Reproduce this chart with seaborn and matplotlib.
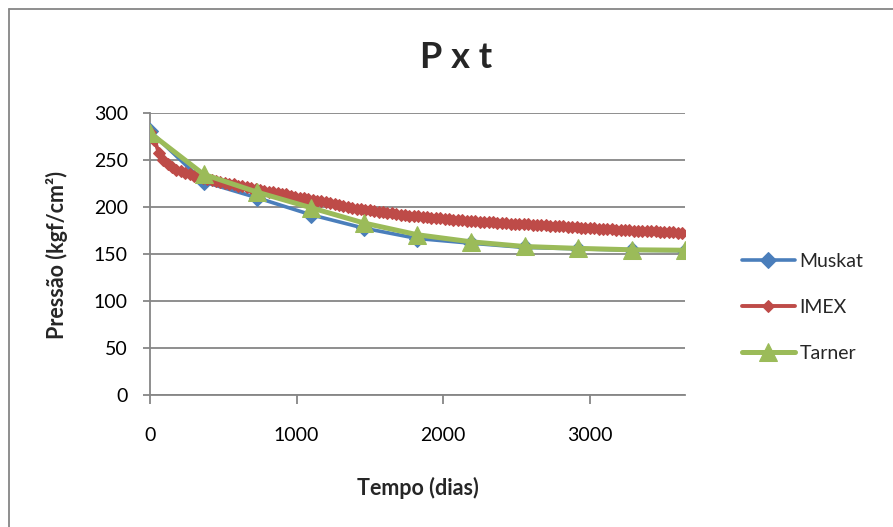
import numpy as np
import pandas as pd
import matplotlib
matplotlib.use("Agg")
import matplotlib.pyplot as plt
import seaborn as sns
from matplotlib.lines import Line2D

# ---------------- data ----------------
muskat_days = [0, 365, 730, 1095, 1460, 1825, 2190, 2555, 2920, 3285, 3650]
muskat_p = [281, 227, 210, 192, 177.5, 166.5, 161.5, 157, 155.5, 154, 153.5]

tarner_days = [0, 365, 730, 1095, 1460, 1825, 2190, 2555, 2920, 3285, 3650]
tarner_p = [279, 235, 216, 199.5, 183, 170.5, 163, 158, 156, 154.5, 154]

imex_days = [0, 30, 60, 90, 120, 150, 180, 210, 240, 270, 300, 330, 360, 390, 420,
             450, 480, 510, 540, 570, 600, 630, 660, 690, 720, 750, 780, 810, 840,
             870, 900, 930, 960, 990, 1020, 1050, 1080, 1110, 1140, 1170, 1200,
             1230, 1260, 1290, 1320, 1350, 1380, 1410, 1440, 1470, 1500, 1530,
             1560, 1590, 1620, 1650, 1680, 1710, 1740, 1770, 1800, 1830, 1860,
             1890, 1920, 1950, 1980, 2010, 2040, 2070, 2100, 2130, 2160, 2190,
             2220, 2250, 2280, 2310, 2340, 2370, 2400, 2430, 2460, 2490, 2520,
             2550, 2580, 2610, 2640, 2670, 2700, 2730, 2760, 2790, 2820, 2850,
             2880, 2910, 2940, 2970, 3000, 3030, 3060, 3090, 3120, 3150, 3180,
             3210, 3240, 3270, 3300, 3330, 3360, 3390, 3420, 3450, 3480, 3510,
             3540, 3570, 3600, 3630]
imex_p = [280, 272, 258, 250, 246, 243, 240, 238, 236, 235, 233, 232, 231, 230, 229,
          228, 227, 226, 225, 224.5, 223, 222.5, 221, 220.5, 219, 218.5, 217.5,
          216.5, 216, 215, 214, 213.5, 212, 211, 210, 209.5, 208.5, 207.5, 206.5,
          206, 205, 204, 203.5, 202.5, 201, 200.5, 199.5, 198.5, 198, 197, 196.5,
          196, 195, 194.5, 194, 193.5, 192.5, 192, 191.5, 191, 190.5, 190, 189.5,
          189, 188.5, 188, 188, 187.5, 187, 186.5, 186.5, 186, 185.5, 185.5, 185,
          184.5, 184.5, 184, 184, 183.5, 183.5, 183, 182.5, 182.5, 182, 182, 181.5,
          181, 181, 180.5, 180.5, 180, 180, 179.5, 179.5, 179, 178.5, 178.5, 178,
          178, 177.5, 177.5, 177, 177, 176.5, 176.5, 176, 176, 175.5, 175.5, 175,
          175, 174.5, 174.5, 174, 174, 173.5, 173.5, 173, 173, 172.5, 172.5]

x_ticks = [0, 1000, 2000, 3000]
y_ticks = [0, 50, 100, 150, 200, 250, 300]

title = "P x t"
xlabel = "Tempo (dias)"
ylabel = "Pressão (kgf/cm²)"

# ---------------- style ----------------
sns.set_theme(style="white")
plt.rcParams["font.family"] = ["Lato", "DejaVu Sans"]

GREY = "#868686"
BLUE = "#4A7EBB"
RED = "#BE4B48"
GREEN = "#9BBB59"

W, H = 893, 527
fig = plt.figure(figsize=(W / 100, H / 100), dpi=100)
fig.patch.set_facecolor("white")

# outer chart frame: only left and top edges are visible in the reference
fig.add_artist(Line2D([8.5 / W, 8.5 / W], [0, 1 - 8.5 / H], transform=fig.transFigure,
                      color=GREY, linewidth=1.3))
fig.add_artist(Line2D([8.5 / W, 1], [1 - 8.5 / H, 1 - 8.5 / H], transform=fig.transFigure,
                      color=GREY, linewidth=1.3))

L, R, T, B = 150, 685, 113.3, 394.7
ax = fig.add_axes([L / W, 1 - B / H, (R - L) / W, (B - T) / H])

df_m = pd.DataFrame({"dias": muskat_days, "p": muskat_p})
df_i = pd.DataFrame({"dias": imex_days, "p": imex_p})
df_t = pd.DataFrame({"dias": tarner_days, "p": tarner_p})

sns.lineplot(data=df_m, x="dias", y="p", ax=ax, color=BLUE, linewidth=2.6,
             marker="D", markersize=8, markeredgecolor=BLUE, label="Muskat",
             zorder=3)
sns.lineplot(data=df_i, x="dias", y="p", ax=ax, color=RED, linewidth=2.8,
             marker="D", markersize=6.5, markeredgecolor=RED, label="IMEX",
             zorder=4)
sns.lineplot(data=df_t, x="dias", y="p", ax=ax, color=GREEN, linewidth=3.6,
             marker="^", markersize=13, markeredgecolor=GREEN, label="Tarner",
             zorder=5)

ax.set_xlim(0, 3650)
ax.set_ylim(0, 300)
ax.set_xticks(x_ticks)
ax.set_yticks(y_ticks)
ax.set_xlabel("")
ax.set_ylabel("")

for s in ["top", "right"]:
    ax.spines[s].set_visible(False)
for s in ["left", "bottom"]:
    ax.spines[s].set_color(GREY)
    ax.spines[s].set_linewidth(1.3)

ax.yaxis.grid(True, color=GREY, linewidth=1.3)
ax.xaxis.grid(False)
ax.set_axisbelow(True)

ax.tick_params(axis="x", direction="out", length=6.5, width=1.3, color=GREY,
               pad=17, labelsize=14, labelcolor="black")
ax.tick_params(axis="y", direction="out", length=5, width=1.3, color=GREY,
               pad=11, labelsize=14, labelcolor="black")
ax.tick_params(bottom=True, left=True)

fig.text(456 / W, 1 - 68 / H, title, ha="center", va="baseline",
         fontsize=26, fontweight="bold")
fig.text(57 / W, 1 - 255 / H, ylabel, ha="center", va="center",
         rotation=90, fontsize=15.5, fontweight="bold")
fig.text(418 / W, 1 - 488 / H, xlabel, ha="center", va="center",
         fontsize=15.5, fontweight="bold")

leg = ax.legend(loc="center left", bbox_to_anchor=(742 / W, 1 - 307.5 / H),
                bbox_transform=fig.transFigure, frameon=False, fontsize=14,
                handlelength=2.7, handletextpad=0.25, labelspacing=1.5,
                borderaxespad=0, borderpad=0)

fig.savefig("out.png", dpi=100, facecolor="white")
